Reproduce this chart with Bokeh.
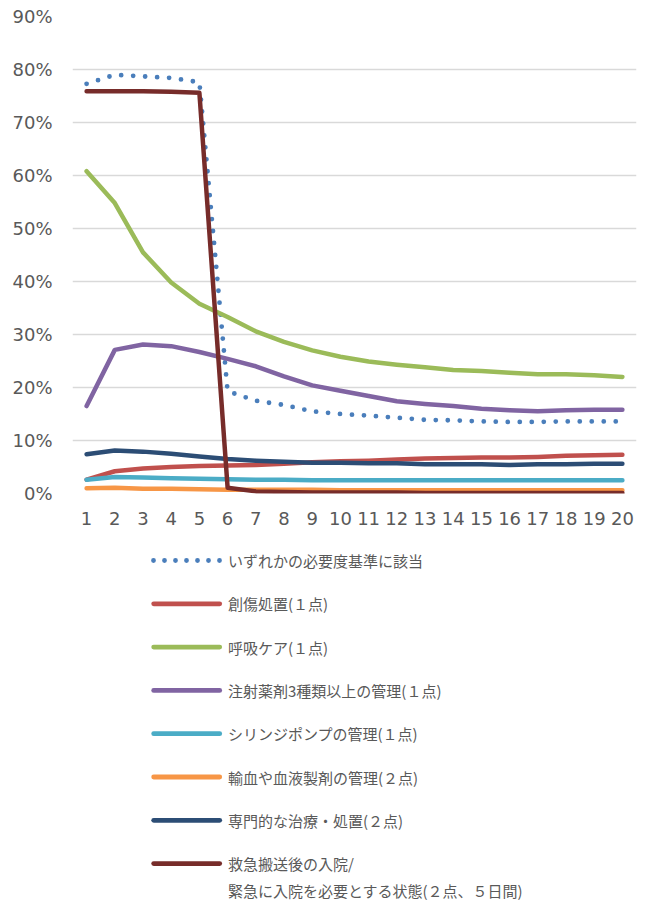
from bokeh.plotting import figure
from bokeh.models import FactorRange, Range1d, NumeralTickFormatter, FixedTicker
from bokeh.layouts import column
from bokeh.embed import file_html
from bokeh.resources import INLINE
from bokeh.core.properties import value

categories = [str(i) for i in range(1, 21)]

s_any = [0.773, 0.790, 0.787, 0.784, 0.776, 0.193, 0.175, 0.167, 0.155, 0.150,
         0.147, 0.143, 0.139, 0.138, 0.136, 0.135, 0.135, 0.136, 0.136, 0.136]
s_wound = [0.026, 0.042, 0.047, 0.050, 0.052, 0.053, 0.054, 0.056, 0.059, 0.061,
           0.062, 0.064, 0.066, 0.067, 0.068, 0.068, 0.069, 0.071, 0.072, 0.073]
s_resp = [0.608, 0.548, 0.455, 0.398, 0.358, 0.333, 0.306, 0.286, 0.270, 0.258,
          0.249, 0.243, 0.238, 0.233, 0.231, 0.228, 0.225, 0.225, 0.223, 0.220]
s_inject = [0.165, 0.271, 0.281, 0.278, 0.267, 0.254, 0.240, 0.221, 0.204, 0.194,
            0.184, 0.174, 0.169, 0.165, 0.160, 0.157, 0.155, 0.157, 0.158, 0.158]
s_syringe = [0.026, 0.031, 0.030, 0.029, 0.028, 0.027, 0.026, 0.026, 0.025, 0.025,
             0.025, 0.025, 0.025, 0.025, 0.025, 0.025, 0.025, 0.025, 0.025, 0.025]
s_blood = [0.010, 0.011, 0.009, 0.009, 0.008, 0.007, 0.007, 0.007, 0.007, 0.006,
           0.006, 0.006, 0.006, 0.006, 0.006, 0.006, 0.006, 0.006, 0.006, 0.006]
s_special = [0.074, 0.081, 0.079, 0.075, 0.070, 0.065, 0.062, 0.060, 0.058, 0.058,
             0.057, 0.057, 0.055, 0.055, 0.055, 0.054, 0.055, 0.055, 0.056, 0.056]
s_emerg = [0.759, 0.759, 0.759, 0.758, 0.756, 0.011, 0.004, 0.003, 0.002, 0.002,
           0.002, 0.002, 0.001, 0.001, 0.001, 0.001, 0.001, 0.001, 0.001, 0.001]

labels = [
    "いずれかの必要度基準に該当",
    "創傷処置(１点)",
    "呼吸ケア(１点)",
    "注射薬剤3種類以上の管理(１点)",
    "シリンジポンプの管理(１点)",
    "輸血や血液製剤の管理(２点)",
    "専門的な治療・処置(２点)",
    "救急搬送後の入院/\n緊急に入院を必要とする状態(２点、５日間)",
]
colors = ["#4A7EBB", "#C0504D", "#9BBB59", "#8064A2", "#4BACC6", "#F79646", "#2C4D75", "#772C2A"]
y_ticks = [0.0, 0.1, 0.2, 0.3, 0.4, 0.5, 0.6, 0.7, 0.8, 0.9]

series = [s_any, s_wound, s_resp, s_inject, s_syringe, s_blood, s_special, s_emerg]

TICK_FONT = "DejaVu Sans"
JP_FONT = "Noto Sans CJK JP"
GRAY = "#595959"

FL, FR, FT, FB = 72, 636, 16, 493   # frame edges in page pixels
W = 638
CH = 543
LH = 360

p = figure(width=W, height=CH, x_range=FactorRange(factors=categories, range_padding=0),
           y_range=Range1d(0, 0.9), output_backend="svg", toolbar_location=None,
           min_border_left=FL, min_border_right=W - FR, min_border_top=FT,
           min_border_bottom=CH - FB)
p.outline_line_color = None
p.xgrid.grid_line_color = None
p.ygrid.grid_line_color = "#D9D9D9"
p.ygrid.grid_line_width = 1.3
p.yaxis.ticker = FixedTicker(ticks=y_ticks)
p.yaxis.formatter = NumeralTickFormatter(format="0%")
for ax in (p.xaxis[0], p.yaxis[0]):
    ax.axis_line_color = None
    ax.major_tick_line_color = None
    ax.minor_tick_line_color = None
    ax.major_tick_out = 0
    ax.major_tick_in = 0
    ax.major_label_text_font = TICK_FONT
    ax.major_label_text_font_size = "18px"
    ax.major_label_text_color = GRAY
p.yaxis.major_label_standoff = 20
p.xaxis.major_label_standoff = 18

for i, (vals, col) in enumerate(zip(series, colors)):
    if i == 0:
        p.line(categories, vals, line_color=col, line_width=4.8, line_dash="0 12",
               line_cap="round", line_join="round")
    else:
        p.line(categories, vals, line_color=col, line_width=4.5,
               line_cap="round", line_join="round")

# legend panel; its data coordinates equal page pixels
lg = figure(width=W, height=LH, x_range=Range1d(FL, FR), y_range=Range1d(CH + LH, CH),
            output_backend="svg", toolbar_location=None,
            min_border_left=FL, min_border_right=W - FR, min_border_top=0, min_border_bottom=0)
lg.outline_line_color = None
lg.xaxis.visible = False
lg.yaxis.visible = False
lg.xgrid.visible = False
lg.ygrid.visible = False

row0 = 560.0
step = 43.3
for i, (lab, col) in enumerate(zip(labels, colors)):
    yy = row0 + i * step
    if i == 0:
        lg.line([153.0, 220.0], [yy, yy], line_color=col, line_width=4.8, line_dash="0 11",
                line_cap="round")
    else:
        lg.line([153.2, 219.2], [yy, yy], line_color=col, line_width=4.8, line_cap="round")
    lines = lab.split("\n")
    for j, ln in enumerate(lines):
        lg.text(x=[227.5], y=[yy + j * 26.6], text=[ln], text_font=value(JP_FONT),
                text_font_size="15px", text_color=GRAY, text_baseline="middle",
                text_align="left")

layout = column(p, lg, spacing=0)
open("out.html", "w").write(file_html(layout, INLINE))
